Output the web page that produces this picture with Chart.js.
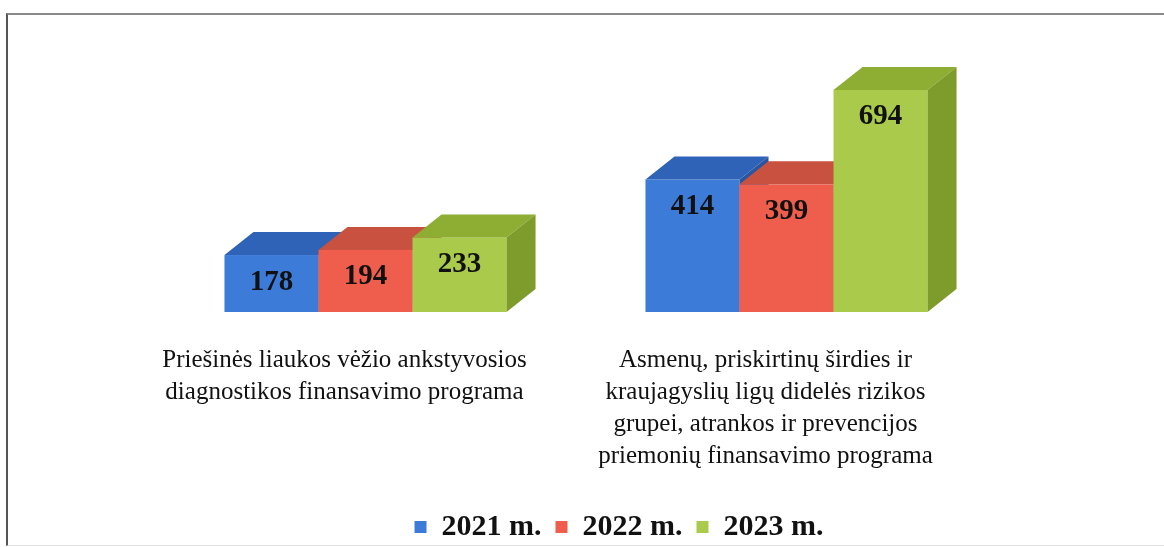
<!DOCTYPE html>
<html>
<head>
<meta charset="utf-8">
<script src="https://cdn.jsdelivr.net/npm/chart.js@4/dist/chart.umd.min.js"></script>
<style>
  html, body { margin: 0; padding: 0; background: #fff; }
  body { width: 1164px; height: 547px; position: relative; overflow: hidden; }
  .frame {
    position: absolute; left: 6px; top: 13px; width: 1170px; height: 530px;
    border-left: 2px solid #555; border-top: 2px solid #8a8a8a; border-bottom: 1px solid #e2e2e2;
  }
  #chart { position: absolute; left: 0; top: 0; }
</style>
</head>
<body>
<div class="frame"></div>
<canvas id="chart" width="1164" height="547"></canvas>
<script>
// duomenys
const programos = [
    ['Priešinės liaukos vėžio ankstyvosios', 'diagnostikos finansavimo programa'],
    ['Asmenų, priskirtinų širdies ir', 'kraujagyslių ligų didelės rizikos', 'grupei, atrankos ir prevencijos', 'priemonių finansavimo programa']
];
const metai = ['2021 m.', '2022 m.', '2023 m.'];
const reiksmes2021 = [178, 414];
const reiksmes2022 = [194, 399];
const reiksmes2023 = [233, 694];

const spalvos = [
    { front: '#3d7bd8', top: '#2f63b8', side: '#2a56a0' },
    { front: '#ef5e4d', top: '#c9513f', side: '#b44434' },
    { front: '#a9ca4a', top: '#8dad33', side: '#7e9c2b' }
];

const DX = 29, DY = 23;

// 3D stulpeliai piesiami ranka is elementu koordinaciu
const bars3d = {
    id: 'bars3d',
    beforeDatasetDraw() { return false; },
    afterDatasetsDraw(chart) {
        const ctx = chart.ctx;
        const n = chart.data.labels.length;
        ctx.save();
        for (let i = 0; i < n; i++) {
            chart.data.datasets.forEach((ds, d) => {
                const el = chart.getDatasetMeta(d).data[i];
                const c = spalvos[d];
                const l = el.x - el.width / 2, r = el.x + el.width / 2;
                const t = el.y, b = el.base;
                // priekis
                ctx.fillStyle = c.front;
                ctx.fillRect(l, t, r - l, b - t);
                // virsus
                ctx.fillStyle = c.top;
                ctx.beginPath();
                ctx.moveTo(l, t); ctx.lineTo(l + DX, t - DY); ctx.lineTo(r + DX, t - DY); ctx.lineTo(r, t);
                ctx.closePath(); ctx.fill();
                // sonas
                ctx.fillStyle = c.side;
                ctx.beginPath();
                ctx.moveTo(r, t); ctx.lineTo(r + DX, t - DY); ctx.lineTo(r + DX, b - DY); ctx.lineTo(r, b);
                ctx.closePath(); ctx.fill();
            });
        }
        // reiksmes
        ctx.fillStyle = '#111';
        ctx.font = 'bold 29px "Liberation Serif", "Times New Roman", serif';
        ctx.textAlign = 'center';
        ctx.textBaseline = 'middle';
        chart.data.datasets.forEach((ds, d) => {
            chart.getDatasetMeta(d).data.forEach((el, i) => {
                ctx.fillText(ds.data[i], el.x, el.y + 27);
            });
        });
        ctx.restore();
    }
};

new Chart(document.getElementById('chart'), {
    type: 'bar',
    data: {
        labels: programos,
        datasets: metai.map((m, d) => ({
            label: m,
            data: [reiksmes2021, reiksmes2022, reiksmes2023][d],
            backgroundColor: spalvos[d].front,
            borderWidth: 0,
            categoryPercentage: 0.67,
            barPercentage: 1.0
        }))
    },
    options: {
        responsive: false,
        animation: false,
        layout: { padding: { left: 74, right: 0, top: 56, bottom: -5 } },
        plugins: {
            tooltip: { enabled: false },
            legend: {
                position: 'bottom',
                labels: {
                    boxWidth: 12,
                    boxHeight: 12,
                    padding: 14,
                    color: '#111',
                    font: { family: '"Liberation Serif", "Times New Roman", serif', size: 30, weight: 'bold' }
                }
            }
        },
        scales: {
            x: {
                grid: { display: false },
                border: { display: false },
                ticks: {
                    color: '#111',
                    padding: 24,
                    labelOffset: -21,
                    maxRotation: 0,
                    autoSkip: false,
                    font: { family: '"Liberation Serif", "Times New Roman", serif', size: 25, lineHeight: 1.29 }
                },
                afterFit(s) { s.height = 186; }
            },
            y: {
                position: 'left',
                min: 0,
                max: 800,
                grid: { display: false },
                border: { display: false },
                ticks: { display: false },
                afterFit(s) { s.width = 81; }
            },
            y2: {
                position: 'right',
                min: 0,
                max: 800,
                grid: { display: false },
                border: { display: false },
                ticks: { display: false },
                afterFit(s) { s.width = 167; }
            }
        }
    },
    plugins: [bars3d]
});
</script>
</body>
</html>
